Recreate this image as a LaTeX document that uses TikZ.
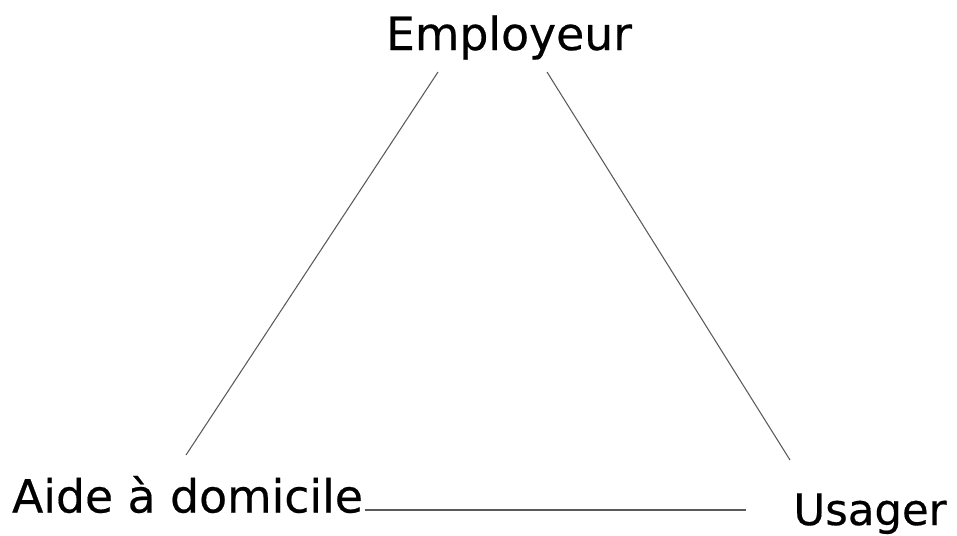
\documentclass[tikz,border=0pt]{standalone}
\usepackage{fontspec}
\setmainfont{DejaVu Sans}[FakeBold=0.4]
\usetikzlibrary{positioning,calc}

\begin{document}
\begin{tikzpicture}[
role/.style={inner sep=0pt, outer sep=0pt, font=\fontsize{26}{31}\selectfont},
link/.style={draw=black!65, line width=0.6pt}
]

\useasboundingbox (0,0) rectangle (19.14,-10.7);

% ================= THE THREE ACTORS =================
\node[role, anchor=base] (emp) at (10.18,-1.0) {Employeur};

\node[role, anchor=base] (aide) at (3.75,-10.25) {Aide à domicile};

\node[role, anchor=base, font=\fontsize{24.7}{30}\selectfont] (usa) at (17.4,-10.5) {Usager};

% ================= RELATIONS =================
\draw[link] ([shift={(-1.42,-0.44)}]emp.base) -- ([shift={(-0.03,1.15)}]aide.base);
\draw[link] ([shift={(0.76,-0.44)}]emp.base) -- ([shift={(-1.6,1.3)}]usa.base);
\draw[link] ([shift={(0.04,0.05)}]aide.base east) -- ([shift={(-0.94,0.3)}]usa.base west);

\end{tikzpicture}
\end{document}
